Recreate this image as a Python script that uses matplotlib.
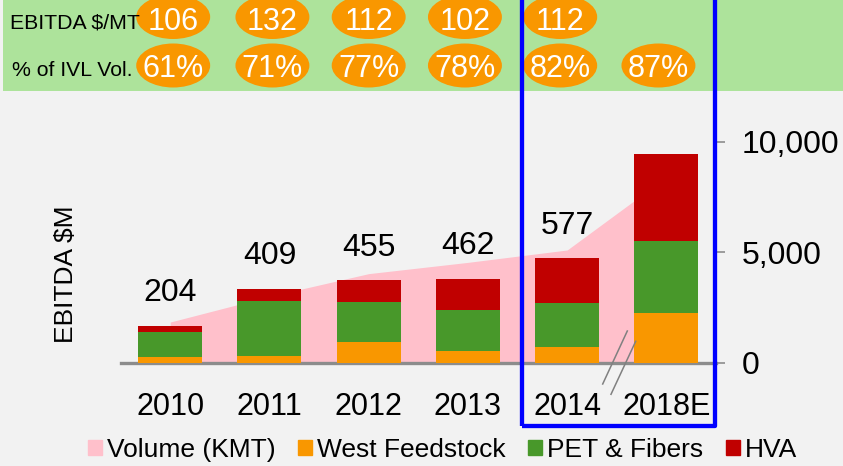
import matplotlib
matplotlib.use("Agg")
import matplotlib.pyplot as plt
import matplotlib.patches as mpatches
import matplotlib.transforms as mtrans
from matplotlib.lines import Line2D
import numpy as np

plt.rcParams['font.family'] = ['Liberation Sans', 'DejaVu Sans']

# data
years = ["2010", "2011", "2012", "2013", "2014", "2018E"]
volume_kmt = [1840, 3000, 4030, 4540, 5100, 8400]
west_feedstock = [30, 37, 115, 65, 87, 276]
pet_fibers = [142, 305, 221, 226, 244, 398]
hva = [32, 67, 119, 171, 246, 481]
ebitda_labels = ["204", "409", "455", "462", "577"]
ebitda_per_mt = ["106", "132", "112", "102", "112"]
pct_ivl_vol = ["61%", "71%", "77%", "78%", "82%", "87%"]

BG = "#f2f2f2"
ORANGE = "#f99700"
GREEN = "#48982a"
RED = "#c00000"
PINK = "#ffc0cb"
BAND = "#ade39b"

W, H = 843, 466
fig = plt.figure(figsize=(W / 100, H / 100), dpi=100, facecolor=BG)

def fx(px):
    return px / W

def fy(py):
    return (H - py) / H

# top green band
fig.patches.append(mpatches.Rectangle((fx(3), fy(90.7)), 1, 1, transform=fig.transFigure,
                                      facecolor=BAND, edgecolor="none", zorder=0))

ax = fig.add_axes([fx(120.6), fy(362.7), fx(716) - fx(120.6), 243.1 / H])
ax.set_facecolor("none")
x = np.arange(len(years))

# EBITDA bars go on a hidden twin axis
ax2 = ax.twinx()

# volume area (right axis)
ax.fill_between(x, 0, volume_kmt, color=PINK, lw=0, zorder=1)
ax.set_xlim(-0.5, 5.5)
ax.set_ylim(0, 11000)
ax.yaxis.tick_right()
ax.set_yticks([0, 5000, 10000])
ax.set_yticklabels(["0", "5,000", "10,000"], fontsize=23)
ax.tick_params(axis="y", length=6.5, width=1.2, color="#8c8c8c", pad=12)
ax.set_xticks(x)
ax.set_xticklabels(years, fontsize=22)
ax.tick_params(axis="x", length=0, pad=21)
for s in ["top", "left", "right"]:
    ax.spines[s].set_visible(False)
ax.spines["bottom"].set_color("#8c8c8c")
ax.spines["bottom"].set_linewidth(2.4)
ax.spines["bottom"].set_zorder(5)

ax2.set_ylim(0, 1343)
ax2.set_xlim(-0.5, 5.5)
ax2.axis("off")
bw = 0.645
ax2.bar(x, west_feedstock, bw, color=ORANGE, zorder=2)
ax2.bar(x, pet_fibers, bw, bottom=west_feedstock, color=GREEN, zorder=2)
bottom2 = np.array(west_feedstock) + np.array(pet_fibers)
ax2.bar(x, hva, bw, bottom=bottom2, color=RED, zorder=2)
totals = bottom2 + np.array(hva)
for i, lab in enumerate(ebitda_labels):
    ax2.annotate(lab, (x[i], totals[i]), xytext=(0, 17.8), textcoords="offset points",
                 ha="center", va="baseline", fontsize=23)

fig.text(fx(66), fy(274), "EBITDA $M", rotation=90, ha="center", va="center", fontsize=19)

# top band rows
fig.text(fx(10), fy(29), "EBITDA $/MT", ha="left", va="baseline", fontsize=15.3)
fig.text(fx(12), fy(76), "% of IVL Vol.", ha="left", va="baseline", fontsize=15.3)
ell_x = [0.03, 1.03, 2.0, 2.97, 3.93, 4.92]
blend = mtrans.blended_transform_factory(ax.transData, fig.transFigure)
for i, lab in enumerate(ebitda_per_mt):
    e = mpatches.Ellipse((ell_x[i], fy(17)), 74 / 99.3, 44 / H, transform=blend,
                         facecolor=ORANGE, edgecolor="none", clip_on=False, zorder=3)
    fig.patches.append(e)
    fig.text(ell_x[i], fy(30), lab, transform=blend, ha="center", va="baseline",
             fontsize=22, color="white", zorder=4)
for i, lab in enumerate(pct_ivl_vol):
    e = mpatches.Ellipse((ell_x[i], fy(65.5)), 74 / 99.3, 44 / H, transform=blend,
                         facecolor=ORANGE, edgecolor="none", clip_on=False, zorder=3)
    fig.patches.append(e)
    fig.text(ell_x[i], fy(77.3), lab, transform=blend, ha="center", va="baseline",
             fontsize=22, color="white", zorder=4)

# axis break marks
for (x0, y0, x1, y1) in [(602.7, 384, 627.3, 331), (611, 394.3, 635.7, 341.3)]:
    fig.lines.append(Line2D([fx(x0), fx(x1)], [fy(y0), fy(y1)], transform=fig.transFigure,
                            color="#808080", lw=1.1, zorder=6))

# blue highlight box
fig.patches.append(mpatches.Rectangle((fx(522), fy(425.8)), fx(714.5) - fx(522), 1.2,
                                      transform=fig.transFigure, fill=False,
                                      edgecolor="#0000ff", lw=3.1, joinstyle="round", zorder=10))

handles = [mpatches.Patch(color=PINK), mpatches.Patch(color=ORANGE),
           mpatches.Patch(color=GREEN), mpatches.Patch(color=RED)]
fig.legend(handles, ["Volume (KMT)", "West Feedstock", "PET & Fibers", "HVA"],
           loc="center", bbox_to_anchor=(0.525, fy(450)), ncol=4, frameon=False, fontsize=19,
           handlelength=0.52, handleheight=0.52, handletextpad=0.2, columnspacing=0.85,
           borderaxespad=0, borderpad=0)

fig.savefig("out.png", dpi=100, facecolor=BG)
